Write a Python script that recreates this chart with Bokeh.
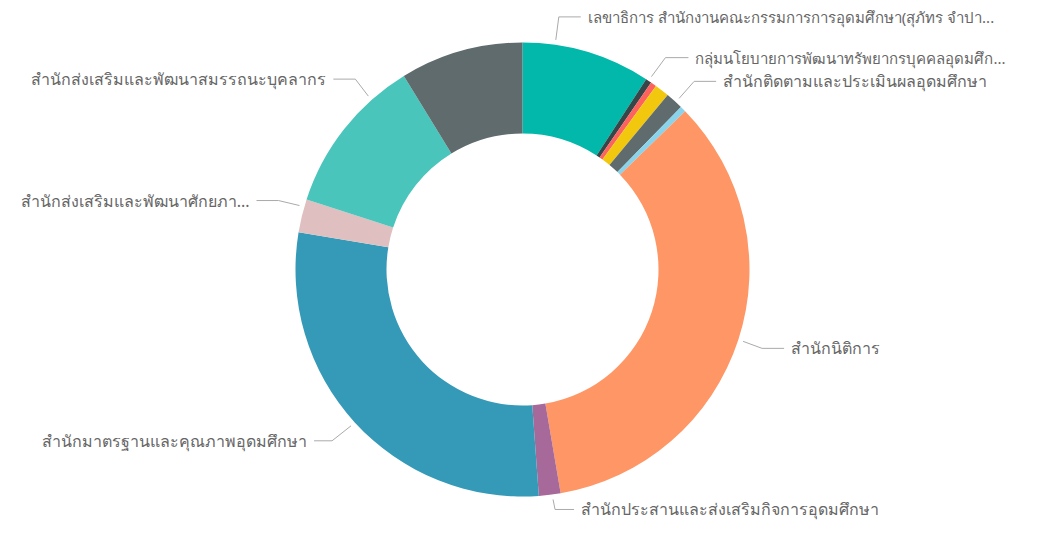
import numpy as np
from bokeh.plotting import figure
from bokeh.models import Range1d, ColumnDataSource
from bokeh.core.properties import value
from bokeh.embed import file_html
from bokeh.resources import INLINE

# ---------------- data ----------------
categories = [
    "เลขาธิการ สำนักงานคณะกรรมการการอุดมศึกษา(สุภัทร จำปาทอง)",
    "กลุ่มนโยบายการพัฒนาทรัพยากรบุคคลอุดมศึกษา",
    "หน่วยงาน 3",
    "หน่วยงาน 4",
    "สำนักติดตามและประเมินผลอุดมศึกษา",
    "หน่วยงาน 6",
    "สำนักนิติการ",
    "สำนักประสานและส่งเสริมกิจการอุดมศึกษา",
    "สำนักมาตรฐานและคุณภาพอุดมศึกษา",
    "สำนักส่งเสริมและพัฒนาศักยภาพ",
    "สำนักส่งเสริมและพัฒนาสมรรถนะบุคลากร",
    "หน่วยงาน 12",
]
values = [22, 1, 1, 2.5, 3, 1, 83, 3.7, 69, 5.7, 27, 21]
label_texts = [
    "เลขาธิการ สำนักงานคณะกรรมการการอุดมศึกษา(สุภัทร จำปา...",
    "กลุ่มนโยบายการพัฒนาทรัพยากรบุคคลอุดมศึก...",
    None,
    None,
    "สำนักติดตามและประเมินผลอุดมศึกษา",
    None,
    "สำนักนิติการ",
    "สำนักประสานและส่งเสริมกิจการอุดมศึกษา",
    "สำนักมาตรฐานและคุณภาพอุดมศึกษา",
    "สำนักส่งเสริมและพัฒนาศักยภา...",
    "สำนักส่งเสริมและพัฒนาสมรรถนะบุคลากร",
    None,
]

# ---------------- style / layout ----------------
colors = ["#01B8AA", "#374649", "#FD625E", "#F2C80F", "#5F6B6D", "#8AD4EB",
          "#FE9666", "#A66999", "#3599B8", "#DFBFBF", "#4AC5BB", "#5F6B6D"]
W, H = 1026, 520
CX, CY = 522, H - 269
R_OUT, R_IN = 227, 136
R_LEAD = 232
# per label: (fraction in slice for leader anchor, elbow dx, elbow dy (screen, down +), horizontal length, font px)
leader_layout = {
    0: (0.25, 3, -23, 22, 15),
    1: (0.5, 14, -19, 23, 15),
    4: (0.6, 15, -17, 22, 16),
    6: (0.5, 19, 7, 22, 16),
    7: (0.38, 2, 10, 19, 16),
    8: (0.5, -19, 15, 18, 16),
    9: (0.77, -21, -5, 22, 16),
    10: (0.75, -13, -17, 22, 16),
}
TEXT_GAP = 7

vals = np.array(values, dtype=float)
frac = vals / vals.sum()
ends = np.cumsum(frac) * 2 * np.pi
starts = ends - frac * 2 * np.pi

src = ColumnDataSource(dict(
    start=np.pi / 2 - starts,
    end=np.pi / 2 - ends,
    color=colors,
    name=categories,
))

p = figure(width=W, height=H, x_range=Range1d(0, W), y_range=Range1d(0, H),
           output_backend="svg", toolbar_location=None, min_border=0)
p.axis.visible = False
p.grid.visible = False
p.outline_line_color = None
p.background_fill_color = "white"
p.border_fill_color = "white"

p.annular_wedge(x=CX, y=CY, inner_radius=R_IN, outer_radius=R_OUT,
                start_angle="start", end_angle="end", direction="clock",
                color="color", line_color=None, source=src)

lx, ly, tx, ty, tt, ta, fs = [], [], [], [], [], [], []
for i, txt in enumerate(label_texts):
    if txt is None:
        continue
    f, edx, edy, hl, size = leader_layout[i]
    a = starts[i] + f * (ends[i] - starts[i])
    sx = CX + R_LEAD * np.sin(a)
    sy = CY + R_LEAD * np.cos(a)
    ex = sx + edx
    ey = sy - edy
    side = 1 if np.sin(a) >= 0 else -1
    hx = ex + side * hl
    lx.append([sx, ex, hx])
    ly.append([sy, ey, ey])
    tx.append(hx + side * TEXT_GAP)
    ty.append(ey)
    tt.append(txt)
    ta.append("left" if side > 0 else "right")
    fs.append(f"{size}px")

p.multi_line(xs=lx, ys=ly, line_color="#AAAAAA", line_width=1)
lab = ColumnDataSource(dict(x=tx, y=ty, text=tt, align=ta, size=fs))
p.text(x="x", y="y", text="text", text_align="align", text_font_size="size",
       text_baseline="middle", text_font=value("Noto Sans"), text_color="#666666",
       source=lab)

open("out.html", "w").write(file_html(p, INLINE))
